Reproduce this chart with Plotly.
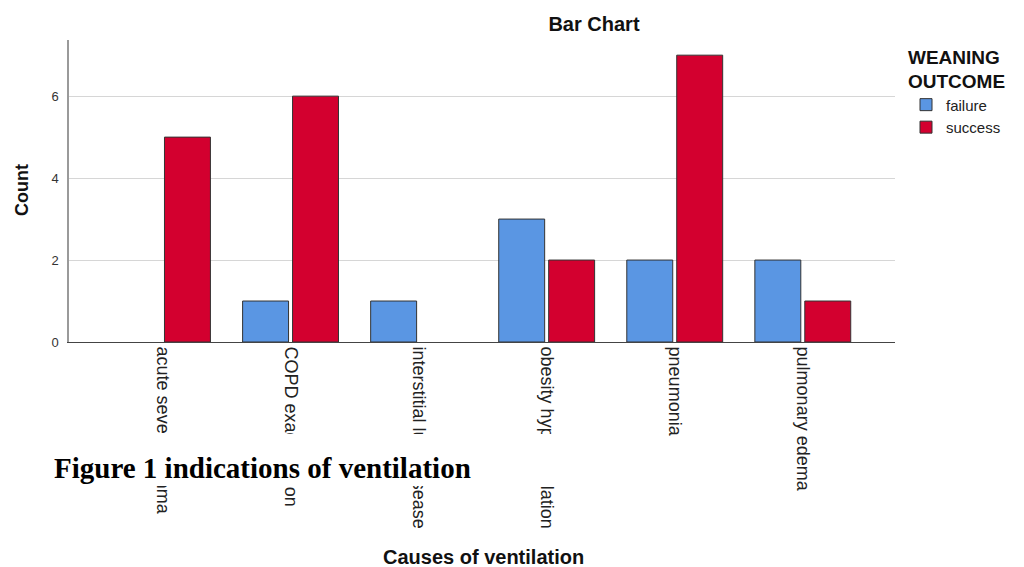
import plotly.graph_objects as go

categories = ["acute severe asthma", "COPD exacerbation", "interstitial lung disease",
              "obesity hypoventilation", "pneumonia", "pulmonary edema"]
failure = [0, 1, 1, 3, 2, 2]
success = [5, 6, 0, 2, 7, 1]
y_ticks = [0, 2, 4, 6]

OFF = 8  # page body margin of the browser
W, H = 1024 - OFF, 567 - OFF
L, R, T, B = 69 - OFF, 895 - OFF, 40 - OFF, 342 - OFF
pw, ph = R - L, B - T

def px_x(x):
    return (x - OFF - L) / pw

def px_y(y):
    return (B - (y - OFF)) / ph

fig = go.Figure()
fig.add_trace(go.Bar(
    x=categories, y=[v if v else None for v in failure], name="failure",
    marker=dict(color="#5A96E3", line=dict(color="#333333", width=1))))
fig.add_trace(go.Bar(
    x=categories, y=[v if v else None for v in success], name="success",
    marker=dict(color="#D3002F", line=dict(color="#333333", width=1))))

fig.update_layout(
    width=W, height=H,
    margin=dict(l=L, r=W - R, t=T, b=H - B, pad=0),
    paper_bgcolor="white", plot_bgcolor="white",
    barmode="group", bargap=0.22, bargroupgap=0.08,
    font=dict(family="Liberation Sans, Arial, sans-serif", color="#222222"),
    title=dict(text="<b>Bar Chart</b>", x=(594 - OFF) / W, xanchor="center",
               y=1 - (24 - OFF) / H, yanchor="middle",
               font=dict(size=20, color="#111111")),
    showlegend=True,
    legend=dict(
        title=dict(text="<b>WEANING<br>OUTCOME</b>", font=dict(size=19, color="#111111")),
        x=px_x(906), xanchor="left", y=px_y(39), yanchor="top",
        font=dict(size=15, color="#222222"),
        bgcolor="rgba(0,0,0,0)", tracegroupgap=0, itemwidth=30),
    xaxis=dict(
        range=[-0.73, 5.72], tickangle=90, showline=True, linecolor="#444444",
        linewidth=1, ticks="", showgrid=False, tickfont=dict(size=18, color="#222222"),
        fixedrange=True),
    yaxis=dict(
        range=[0, 7.37], tickvals=y_ticks, ticktext=[str(v) for v in y_ticks],
        showline=True, linecolor="#9A9A9A", linewidth=1.5,
        showgrid=True, gridcolor="#D6D6D6", gridwidth=1, zeroline=False,
        ticks="", ticklabelstandoff=6, tickfont=dict(size=13, color="#333333")),
)

# white box of the overlaid caption, hiding part of the tick labels
fig.add_shape(type="rect", xref="paper", yref="paper",
              x0=px_x(40), x1=px_x(600), y0=px_y(486), y1=px_y(434),
              fillcolor="white", line=dict(width=0), layer="above")

fig.add_annotation(text="<b>Figure 1 indications of ventilation</b>",
                   xref="paper", yref="paper", x=px_x(52), y=px_y(468),
                   xanchor="left", yanchor="middle", showarrow=False,
                   font=dict(family="Liberation Serif, Times New Roman, serif",
                             size=29, color="#000000"))

fig.add_annotation(text="<b>Count</b>", xref="paper", yref="paper",
                   x=px_x(22), y=px_y(190), textangle=-90, showarrow=False,
                   xanchor="center", yanchor="middle",
                   font=dict(size=18, color="#111111"))

fig.add_annotation(text="<b>Causes of ventilation</b>", xref="paper", yref="paper",
                   x=px_x(483), y=px_y(557), showarrow=False,
                   xanchor="center", yanchor="middle",
                   font=dict(size=20, color="#111111"))

fig.write_html("out.html")
